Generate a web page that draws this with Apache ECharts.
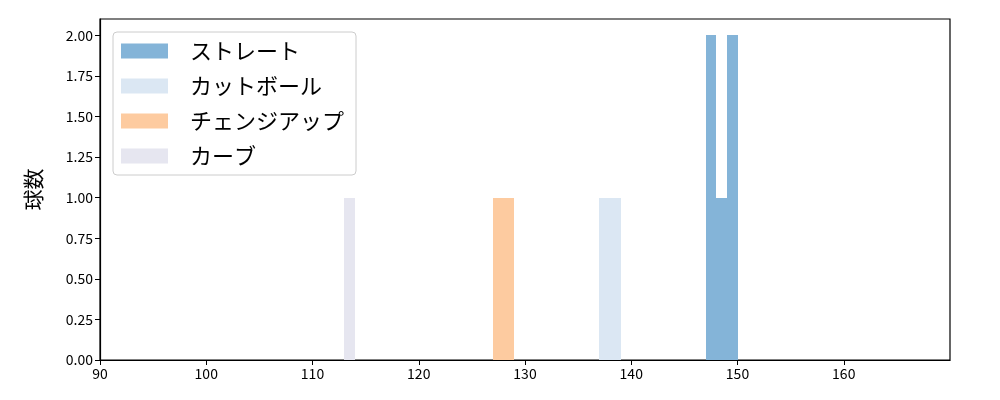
<!DOCTYPE html>
<html>
<head>
<meta charset="utf-8">
<script src="https://cdn.jsdelivr.net/npm/echarts@6/dist/echarts.min.js"></script>
<style>
  html, body { margin: 0; padding: 0; background: #fff; }
  #chart { width: 1000px; height: 400px; }
</style>
</head>
<body>
<div id="chart"></div>
<script>
 // pitch types, bins are [from, to, count]
 var pitchNames = ['ストレート', 'カットボール', 'チェンジアップ', 'カーブ'];
 var straightBins = [[147, 148, 2], [148, 149, 1], [149, 150, 2]];
 var cutterBins = [[137, 139, 1]];
 var changeupBins = [[127, 129, 1]];
 var curveBins = [[113, 114, 1]];
 var pitchColors = ['#84b4d8', '#dbe7f3', '#fdcba0', '#e6e6f0'];
 var xTicks = [90, 100, 110, 120, 130, 140, 150, 160];
 var yTicks = [0, 0.25, 0.5, 0.75, 1, 1.25, 1.5, 1.75, 2];

 var font = '"Noto Sans CJK JP", sans-serif';
 var myChart = echarts.init(document.getElementById('chart'));

 function renderBin(params, api) {
     var start = api.coord([api.value(0), api.value(2)]);
     var end = api.coord([api.value(1), 0]);
     var x0 = Math.round(start[0]), x1 = Math.round(end[0]);
     var y0 = Math.round(start[1]), y1 = Math.round(end[1]);
     return {
         type: 'rect',
         shape: { x: x0, y: y0, width: x1 - x0, height: y1 - y0 },
         style: { fill: pitchColors[params.seriesIndex], stroke: 'transparent', lineWidth: 0 },
         emphasisDisabled: true
     };
 }

 var allBins = [straightBins, cutterBins, changeupBins, curveBins];
 var series = [];
 for (var i = 0; i < pitchNames.length; i++) {
     series.push({
         name: pitchNames[i],
         type: 'custom',
         renderItem: renderBin,
         encode: { x: [0, 1], y: 2 },
         itemStyle: { color: pitchColors[i], borderWidth: 0 },
         data: allBins[i]
     });
 }

 var option = {
     animation: false,
     textStyle: { fontFamily: font },
     grid: {
         left: 100, right: 50, top: 19, bottom: 40,
         show: true, borderColor: '#000', borderWidth: 1.2, backgroundColor: 'transparent'
     },
     legend: {
         orient: 'vertical',
         left: 113, top: 32,
         padding: [8, 12, 8, 8],
         itemWidth: 47, itemHeight: 15, itemGap: 13,
         icon: 'rect',
         backgroundColor: 'rgba(255,255,255,0.8)',
         borderColor: '#ccc', borderWidth: 1, borderRadius: 4,
         textStyle: { fontSize: 22, color: '#000', fontFamily: font, padding: [0, 0, 0, 17] },
         data: pitchNames
     },
     xAxis: {
         type: 'value',
         min: 90, max: 170, interval: 10,
         axisLine: { show: true, lineStyle: { color: '#000', width: 1.2 } },
         axisTick: { show: true, length: 5, customValues: xTicks, lineStyle: { color: '#000' } },
         axisLabel: { fontSize: 14, color: '#000', margin: 7, customValues: xTicks },
         splitLine: { show: false }
     },
     yAxis: {
         type: 'value',
         min: 0, max: 2.1, interval: 0.25,
         name: '球数',
         nameLocation: 'middle',
         nameGap: 56,
         nameTextStyle: { fontSize: 21, color: '#000', fontFamily: font },
         axisLine: { show: true, lineStyle: { color: '#000', width: 1.2 } },
         axisTick: { show: true, length: 5, customValues: yTicks, lineStyle: { color: '#000' } },
         axisLabel: {
             fontSize: 14, color: '#000', margin: 7, customValues: yTicks,
             formatter: function (v) { return v.toFixed(2); }
         },
         splitLine: { show: false }
     },
     series: series
 };
 myChart.setOption(option);
</script>
</body>
</html>
